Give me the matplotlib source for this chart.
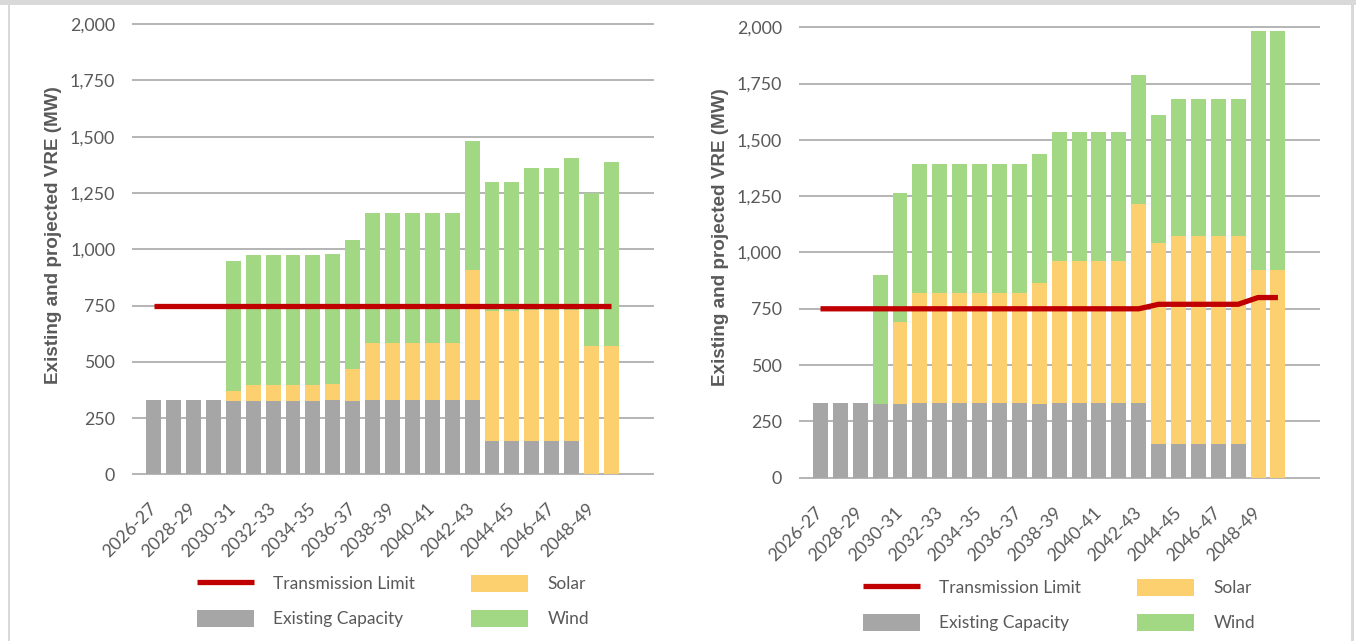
import matplotlib
matplotlib.use("Agg")
import matplotlib.pyplot as plt
from matplotlib.patches import Patch, Rectangle
from matplotlib.lines import Line2D
from matplotlib.ticker import FuncFormatter
import numpy as np

# Financial years on the category axis
periods = [
    "2026-27", "2027-28", "2028-29", "2029-30", "2030-31", "2031-32",
    "2032-33", "2033-34", "2034-35", "2035-36", "2036-37", "2037-38",
    "2038-39", "2039-40", "2040-41", "2041-42", "2042-43", "2043-44",
    "2044-45", "2045-46", "2046-47", "2047-48", "2048-49", "2049-50",
]

# Scenario A (MW)
existing_a = [331, 331, 331, 331, 327, 327, 327, 327, 327, 331, 327, 331,
              331, 331, 331, 331, 331, 150, 150, 150, 150, 150, 0, 0]
solar_a = [0, 0, 0, 0, 44, 71, 71, 71, 71, 72, 139, 254,
           254, 254, 254, 254, 575, 575, 575, 579, 579, 579, 572, 572]
wind_a = [0, 0, 0, 0, 575, 575, 575, 575, 575, 575, 575, 575,
          575, 575, 575, 575, 575, 573, 573, 632, 632, 676, 677, 815]
limit_a = [750, 750, 750, 750, 750, 750, 750, 750, 750, 750, 750, 750,
           750, 750, 750, 750, 750, 750, 750, 750, 750, 750, 750, 750]

# Scenario B (MW)
existing_b = [331, 331, 331, 327, 327, 331, 331, 331, 331, 331, 331, 327,
              331, 331, 331, 331, 331, 150, 150, 150, 150, 150, 0, 0]
solar_b = [0, 0, 0, 0, 366, 489, 489, 489, 489, 489, 489, 537,
           632, 632, 632, 632, 885, 890, 923, 923, 923, 923, 924, 924]
wind_b = [0, 0, 0, 573, 571, 573, 573, 573, 573, 573, 573, 573,
          572, 572, 572, 572, 572, 571, 608, 608, 608, 608, 1060, 1060]
limit_b = [750, 750, 750, 750, 750, 750, 750, 750, 750, 750, 750, 750,
           750, 750, 750, 750, 750, 770, 770, 770, 770, 770, 800, 800]

GREY = "#a6a6a6"
SOLAR = "#fcd06e"
WIND = "#a2d884"
RED = "#c00000"
TEXT = "#595959"
GRID = "#b4b4b4"
FRAME = "#d9d9d9"

TICK_FONT = "Lato"
LABEL_FONT = "Liberation Sans"

W, H = 1356, 641
fig = plt.figure(figsize=(W / 100, H / 100), dpi=100)
fig.patch.set_facecolor("white")


def px_axes(x0, y0, x1, y1):
    return fig.add_axes([x0 / W, 1 - y1 / H, (x1 - x0) / W, (y1 - y0) / H])


def draw_panel(ax, existing, solar, wind, limit):
    x = np.arange(len(periods))
    existing = np.array(existing, dtype=float)
    solar = np.array(solar, dtype=float)
    wind = np.array(wind, dtype=float)
    ax.bar(x, existing, width=0.75, color=GREY, zorder=2)
    ax.bar(x, solar, bottom=existing, width=0.75, color=SOLAR, zorder=2)
    ax.bar(x, wind, bottom=existing + solar, width=0.75, color=WIND, zorder=2)
    ax.plot(x, limit, color=RED, lw=3.8, zorder=3, solid_capstyle="butt",
            solid_joinstyle="round")

    ax.set_ylim(0, 2000)
    ax.set_xlim(-1.03, 25.08)
    ax.set_yticks(np.arange(0, 2001, 250))
    ax.yaxis.set_major_formatter(FuncFormatter(lambda v, p: f"{int(v):,}"))
    ax.yaxis.grid(True, color=GRID, lw=1.4)
    for gl in ax.get_ygridlines():
        gl.set_clip_on(False)
    ax.set_axisbelow(True)
    for s in ax.spines.values():
        s.set_visible(False)
    ax.tick_params(axis="both", length=0, colors=TEXT)
    ax.tick_params(axis="y", pad=13, labelsize=12.8)
    for lab in ax.get_yticklabels():
        lab.set_fontfamily(TICK_FONT)

    ax.set_xticks(x[::2])
    ax.set_xticklabels(periods[::2], rotation=45, ha="right", va="center",
                       rotation_mode="anchor", fontsize=12.8,
                       family=TICK_FONT, color=TEXT)
    ax.tick_params(axis="x", pad=23)


ax1 = px_axes(133.3, 24.2, 652.7, 474.3)
ax2 = px_axes(800.0, 27.3, 1319.3, 477.7)
draw_panel(ax1, existing_a, solar_a, wind_a, limit_a)
draw_panel(ax2, existing_b, solar_b, wind_b, limit_b)

ylabel = "Existing and projected VRE (MW)"
for cx, cy in [(53, 235), (720, 237)]:
    fig.text(cx / W, 1 - cy / H, ylabel, rotation=90, ha="center", va="center",
             fontsize=13.6, fontweight="bold", family=LABEL_FONT, color=TEXT)

handles = [
    Line2D([], [], color=RED, lw=3.8, solid_capstyle="butt"),
    Patch(facecolor=GREY),
    Patch(facecolor=SOLAR),
    Patch(facecolor=WIND),
]
names = ["Transmission Limit", "Existing Capacity", "Solar", "Wind"]
for cx, cy in [(393, 601), (1059, 605)]:
    fig.legend(handles, names, ncol=2, loc="center",
               bbox_to_anchor=(cx / W, 1 - cy / H), frameon=False,
               prop={"family": TICK_FONT, "size": 12.5}, labelcolor=TEXT,
               handlelength=3.3, handleheight=1.15, handletextpad=1.1,
               columnspacing=3.2, labelspacing=0.98)

# light frame round the figure
fig.add_artist(Rectangle((0, 1 - 5 / H), 1, 5 / H, transform=fig.transFigure,
                         facecolor=FRAME, edgecolor="none"))
fig.add_artist(Rectangle((7.5 / W, 0), 2.5 / W, 1, transform=fig.transFigure,
                         facecolor=FRAME, edgecolor="none"))
fig.add_artist(Rectangle((1351 / W, 0), 3 / W, 1, transform=fig.transFigure,
                         facecolor=FRAME, edgecolor="none"))

fig.savefig("out.png", dpi=100)
